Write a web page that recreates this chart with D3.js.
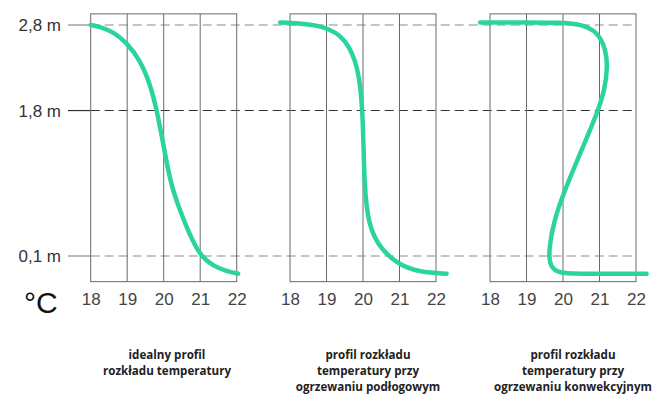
<!DOCTYPE html>
<html><head><meta charset="utf-8">
<script src="https://cdn.jsdelivr.net/npm/d3@7"></script>
<style>
html,body{margin:0;padding:0;background:#fff;}
svg{display:block;}
</style></head>
<body>
<svg id="chart" width="654" height="394"></svg>
<script>
// ---- data ----
const tempTicks = [18, 19, 20, 21, 22];
const heightLevels = [2.8, 1.8, 0.1];
const heightLabels = ["2,8 m", "1,8 m", "0,1 m"];
const panelTitles = [
  ["idealny profil", "rozkładu temperatury"],
  ["profil rozkładu", "temperatury przy", "ogrzewaniu podłogowym"],
  ["profil rozkładu", "temperatury przy", "ogrzewaniu konwekcyjnym"]
];
// curve points: [temperature °C, height m]
const idealTemp   = [18, 18.26, 18.62, 19.0, 19.35, 19.62, 19.81, 20.0, 20.18, 20.42, 20.68, 21.0, 21.37, 21.73, 22.04];
const idealHeight = [2.8, 2.78, 2.72, 2.587, 2.39, 2.12, 1.81, 1.385, 0.96, 0.66, 0.38, 0.1, -0.02, -0.08, -0.107];
const floorTemp   = [17.73, 19.0, 19.55, 19.87, 20.0, 20.03, 20.15, 20.47, 21.0, 21.56, 22.29];
const floorHeight = [2.83, 2.8, 2.626, 2.315, 1.81, 0.92, 0.455, 0.184, -0.01, -0.087, -0.107];
const convTemp    = [17.73, 19.0, 19.9, 20.5, 20.95, 21.18, 21.22, 21.14, 20.94, 20.47, 20.01, 19.76, 19.62, 19.62, 19.82, 20.2, 21.0, 22.29];
const convHeight  = [2.83, 2.83, 2.83, 2.81, 2.72, 2.51, 2.3, 2.04, 1.77, 1.3, 0.83, 0.52, 0.21, 0.0, -0.09, -0.107, -0.107, -0.107];
const heightExtent = [-0.2, 2.93];

const series = [
  {t: idealTemp, h: idealHeight},
  {t: floorTemp, h: floorHeight},
  {t: convTemp, h: convHeight}
];

// ---- layout ----
const svg = d3.select("#chart");
const panelLeft = [90.7, 290, 490];
const panelW = 146;
const y = d3.scaleLinear().domain([0.1, 2.8]).range([256, 25]);
const lineColor = "#2bd3a0";
const sansFont = "'Liberation Sans', Arial, sans-serif";

// horizontal reference lines
heightLevels.forEach((h, i) => {
  const dark = i === 1;
  const col = dark ? "#333" : "#8a8a8a";
  svg.append("line").attr("x1", 68).attr("x2", panelLeft[0])
    .attr("y1", y(h)).attr("y2", y(h)).attr("stroke", col).attr("stroke-width", 1.2);
  svg.append("line").attr("x1", panelLeft[0]).attr("x2", panelLeft[2] + panelW)
    .attr("y1", y(h)).attr("y2", y(h)).attr("stroke", col).attr("stroke-width", 1.1)
    .attr("stroke-dasharray", "9,5");
  svg.append("text").attr("x", 61).attr("y", y(h)).attr("dy", "0.36em")
    .attr("text-anchor", "end").attr("font-family", sansFont)
    .attr("font-size", 17).attr("fill", "#333").text(heightLabels[i]);
});

// panels
panelLeft.forEach((x0, p) => {
  const x = d3.scaleLinear().domain([18, 22]).range([x0, x0 + panelW]);
  const g = svg.append("g");
  g.append("rect").attr("x", x(18)).attr("y", y(heightExtent[1]))
    .attr("width", x(22) - x(18)).attr("height", y(heightExtent[0]) - y(heightExtent[1]))
    .attr("fill", "none").attr("stroke", "#6a6a6a").attr("stroke-width", 1);
  tempTicks.slice(1, -1).forEach(t => {
    g.append("line").attr("x1", x(t)).attr("x2", x(t))
      .attr("y1", y(heightExtent[1])).attr("y2", y(heightExtent[0]))
      .attr("stroke", "#6a6a6a").attr("stroke-width", 1);
  });
  const axis = d3.axisBottom(x).tickValues(tempTicks).tickSize(0).tickPadding(0).tickFormat(d3.format("d"));
  const ag = g.append("g").attr("transform", `translate(0,${y(heightExtent[0]) + 11})`).call(axis);
  ag.select(".domain").remove();
  ag.selectAll("text").attr("font-family", sansFont)
    .attr("font-size", 17).attr("fill", "#444").attr("dy", "0.71em");
  const s = series[p];
  const pts = s.t.map((t, i) => [x(t), y(s.h[i])]);
  g.append("path").datum(pts)
    .attr("d", d3.line().curve(d3.curveBasis))
    .attr("fill", "none").attr("stroke", lineColor).attr("stroke-width", 4.5)
    .attr("stroke-linecap", "round").attr("stroke-linejoin", "round");
  const cx = [167, 368, 573][p];
  const cap = svg.append("text").attr("text-anchor", "middle")
    .attr("font-family", "'Open Sans', sans-serif").attr("font-weight", 700)
    .attr("font-size", 11.6).attr("fill", "#222");
  panelTitles[p].forEach((line, i) => {
    cap.append("tspan").attr("x", cx).attr("y", 359 + i * 16).text(line);
  });
});

svg.append("text").attr("x", 24).attr("y", 313)
  .attr("font-family", sansFont).attr("font-size", 30)
  .attr("fill", "#111").text("°C");
</script>
</body></html>
